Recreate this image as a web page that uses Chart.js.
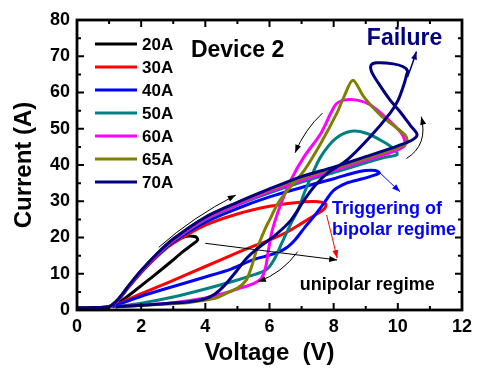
<!DOCTYPE html>
<html>
<head>
<meta charset="utf-8">
<script src="https://cdn.jsdelivr.net/npm/chart.js@4.4.1/dist/chart.umd.min.js"></script>
<style>
    html, body { margin: 0; padding: 0; background: #fff; }
    #wrap { width: 478px; height: 370px; position: relative; }
</style>
</head>
<body>
<div id="wrap"><canvas id="ivLoops"></canvas></div>
<script>
// Measured I-V loops, [voltage (V), current (A)], in the order the sweep runs
const loop20A = [[0,0.6],[0.5,0.7],[1.0,0.9],[1.3,3],[1.6,6.4],[2.0,10.6],[2.5,15.1],[3.0,18.6],[3.4,20.3],[3.7,20.2],[3.76,19.3],[3.6,18.1],[3.3,16.1],[2.9,13.1],[2.4,9.5],[1.9,6.0],[1.4,2.6],[1.1,0.9]];
const loop30A = [[0,0.6],[0.5,0.7],[1.0,0.9],[1.3,2.9],[1.6,6.2],[2.0,10.3],[2.5,14.8],[3.0,18.4],[4.0,23.4],[5.0,26.5],[6.0,28.6],[6.8,29.6],[7.4,29.9],[7.75,29.3],[7.72,28],[7.5,26.6],[7.0,23.9],[6.5,21.3],[6.0,19.3],[5.5,17.6],[5.0,15.8],[4.0,12],[3.0,8.2],[2.0,4.5],[1.1,0.9]];
const loop40A = [[0,0.6],[0.5,0.7],[1.0,0.9],[1.3,3],[1.6,6.3],[2.0,10.5],[2.5,15],[3.0,18.8],[4.0,24.2],[5.0,28],[6.0,31.2],[7.0,33.8],[8.0,36.2],[8.8,38.2],[9.3,38.5],[9.42,37.8],[9.2,37],[8.9,36.2],[8.4,35],[8.0,33],[7.7,29.5],[7.4,26],[7.1,22.8],[6.8,19.4],[6.5,17],[6.1,15.4],[5.5,13.9],[4.8,11.3],[4.0,9.1],[3.0,6.5],[2.0,3.8],[1.1,0.9]];
const loop50A = [[0,0.6],[0.5,0.7],[1.0,0.9],[1.3,3],[1.6,6.4],[2.0,10.6],[2.5,15.2],[3.0,19.1],[4.0,24.9],[5.0,28.9],[6.0,32.3],[7.0,35.3],[8.0,37.9],[9.0,40.6],[9.6,42.1],[9.97,42.8],[9.93,44.1],[9.55,46.4],[9.04,48.7],[8.55,49.3],[8.05,47.2],[7.6,42.3],[7.3,36.8],[7.08,32.2],[6.9,27.8],[6.65,23.5],[6.4,18.8],[6.15,14],[5.9,11.1],[5.4,9.4],[4.9,8],[4.0,5.8],[3.0,3.6],[2.0,1.9],[1.2,0.9]];
const loop60A = [[0,0.6],[0.5,0.7],[1.0,0.9],[1.3,3],[1.6,6.5],[2.0,10.7],[2.5,15.4],[3.0,19.3],[4.0,25.2],[5.0,29.1],[6.0,32.7],[7.0,35.8],[8.0,38.5],[9.0,41.3],[9.8,43.5],[10.2,45.2],[10.2,47.2],[10.07,49.2],[9.65,52.9],[9.14,56.6],[8.73,57.9],[8.32,57.9],[8.05,56.5],[7.6,48.7],[7.08,42.3],[6.67,35.9],[6.36,29.4],[6.18,24.8],[6.06,21],[5.95,15.6],[5.88,11.8],[5.75,8.8],[5.5,7.3],[5.0,5.8],[4.5,4.4],[4.0,3.3],[3.0,2.0],[2.0,1.3],[1.2,0.9]];
const loop65A = [[0,0.6],[0.5,0.7],[1.0,0.9],[1.3,3.1],[1.6,6.6],[2.0,10.9],[2.5,15.6],[3.0,19.6],[4.0,25.6],[5.0,29.6],[6.0,33.2],[7.0,36.4],[8.0,39.1],[9.0,41.8],[9.9,44.5],[10.27,46],[10.25,48],[9.91,50.6],[9.45,53.8],[8.94,58.8],[8.6,63.4],[8.32,58.8],[8.1,54.3],[7.6,46],[7.09,38.6],[6.57,33.1],[6.26,29.4],[6.0,24.8],[5.85,22.1],[5.6,16.6],[5.44,11.9],[5.28,8.3],[5.03,6.2],[4.7,4.8],[4.3,3.2],[3.5,2.1],[2.5,1.5],[1.2,0.9]];
const loop70A = [[0,0.6],[0.5,0.7],[1.0,0.9],[1.3,3.1],[1.6,6.6],[2.0,10.9],[2.5,15.6],[3.0,19.6],[4.0,25.6],[5.0,29.7],[6.0,33.4],[7.0,36.8],[8.0,39.4],[9.0,42.3],[10.0,45.3],[10.45,46.9],[10.6,48.4],[10.4,50.8],[10.07,54.7],[9.76,57.9],[9.4,62.5],[9.18,65.8],[9.17,67.6],[9.35,68.2],[9.86,67.9],[10.17,67.1],[10.3,66],[10.27,64.8],[10.2,62.5],[10.01,57.9],[9.76,54.3],[9.14,47.8],[8.42,41.4],[7.8,37.7],[7.39,34],[7.08,30.3],[6.67,24.8],[6.2,20.8],[5.6,16.8],[5.28,14.2],[4.95,10.5],[4.6,6.8],[4.3,4.4],[4.0,3.1],[3.5,2.3],[2.8,1.8],[2.0,1.3],[1.2,0.9]];

const loopLabels = ['20A', '30A', '40A', '50A', '60A', '65A', '70A'];
const loopColors = ['#000000', '#ff0000', '#0000ff', '#008080', '#ff00ff', '#808000', '#000080'];
const loops = [loop20A, loop30A, loop40A, loop50A, loop60A, loop65A, loop70A];

const xTicks = [0, 2, 4, 6, 8, 10, 12];
const yTicks = [0, 10, 20, 30, 40, 50, 60, 70, 80];

const FONT = "'Liberation Sans', Arial, sans-serif";
Chart.defaults.font.family = FONT;
Chart.defaults.color = '#000';

// Notes written on the plot, placed in axis units
const notes = [
    { text: 'Device 2', x: 3.55, y: 69.8, size: 23, color: '#000000', align: 'left' },
    { text: 'Failure', x: 10.21, y: 73.1, size: 23, color: '#000080', align: 'center' },
    { text: 'Triggering of', x: 7.95, y: 26.5, size: 18, color: '#0000ff', align: 'left' },
    { text: 'bipolar regime', x: 7.95, y: 20.7, size: 18, color: '#0000ff', align: 'left' },
    { text: 'unipolar regime', x: 6.94, y: 5.5, size: 18, color: '#000000', align: 'left' },
];

// Arrows: start, bend point and tip in axis units
const arrows = [
    { from: [2.55, 17.3], via: [3.6, 25.6], to: [4.95, 31.7], color: '#000', width: 1 },
    { from: [7.65, 54.3], via: [7.1, 49.8], to: [6.8, 43.4], color: '#000', width: 1 },
    { from: [10.27, 41.8], via: [10.95, 45.5], to: [10.73, 53.3], color: '#000', width: 1 },
    { from: [6.88, 16.1], via: [6.4, 10.2], to: [5.64, 7.8], color: '#000', width: 1 },
    { from: [4.0, 18.4], via: [6.05, 16.1], to: [8.11, 13.8], color: '#000', width: 1 },
    { from: [7.78, 26.2], via: [7.95, 20.2], to: [8.11, 14.3], color: '#ff0000', width: 1 },
    { from: [9.4, 38.2], via: [9.73, 35.4], to: [10.07, 32.6], color: '#0000ff', width: 1 },
    { from: [10.3, 64.2], via: [10.45, 67.7], to: [10.58, 71.3], color: '#000080', width: 1.5 },
];

// Build one scatter-line dataset per loop
const datasets = loops.map((loop, i) => ({
    label: loopLabels[i],
    data: loop.map(p => ({ x: p[0], y: p[1] })),
    borderColor: loopColors[i],
    borderWidth: 3,
    showLine: true,
    pointRadius: 0,
    tension: 0.3,
    order: loops.length - i,
}));

function drawArrow(ctx, x, y, a) {
    const p0 = [x.getPixelForValue(a.from[0]), y.getPixelForValue(a.from[1])];
    const c = [x.getPixelForValue(a.via[0]), y.getPixelForValue(a.via[1])];
    const p1 = [x.getPixelForValue(a.to[0]), y.getPixelForValue(a.to[1])];
    ctx.save();
    ctx.strokeStyle = a.color;
    ctx.fillStyle = a.color;
    ctx.lineWidth = a.width;
    ctx.beginPath();
    ctx.moveTo(p0[0], p0[1]);
    ctx.quadraticCurveTo(c[0], c[1], p1[0], p1[1]);
    ctx.stroke();
    // arrow head follows the curve's direction at the tip
    const ang = Math.atan2(p1[1] - c[1], p1[0] - c[0]);
    const len = 8, half = 3;
    ctx.beginPath();
    ctx.moveTo(p1[0], p1[1]);
    ctx.lineTo(p1[0] - len * Math.cos(ang) + half * Math.sin(ang), p1[1] - len * Math.sin(ang) - half * Math.cos(ang));
    ctx.lineTo(p1[0] - len * Math.cos(ang) - half * Math.sin(ang), p1[1] - len * Math.sin(ang) + half * Math.cos(ang));
    ctx.closePath();
    ctx.fill();
    ctx.restore();
}

// Box frame with inward ticks, the legend, notes and arrows
const frameAndNotes = {
    id: 'frameAndNotes',
    afterDatasetsDraw(chart) {
        const { ctx, chartArea: a, scales: { x, y } } = chart;
        ctx.save();
        ctx.strokeStyle = '#000';
        ctx.lineWidth = 2;
        for (let v = 0; v <= 12; v += 1) {
            const px = x.getPixelForValue(v);
            const len = v % 2 === 0 ? 7 : 4;
            ctx.beginPath();
            ctx.moveTo(px, a.bottom); ctx.lineTo(px, a.bottom - len);
            ctx.moveTo(px, a.top); ctx.lineTo(px, a.top + len);
            ctx.stroke();
        }
        for (let v = 0; v <= 80; v += 5) {
            const py = y.getPixelForValue(v);
            const len = v % 10 === 0 ? 7 : 4;
            ctx.beginPath();
            ctx.moveTo(a.left, py); ctx.lineTo(a.left + len, py);
            ctx.moveTo(a.right, py); ctx.lineTo(a.right - len, py);
            ctx.stroke();
        }
        ctx.lineWidth = 2.8;
        ctx.strokeRect(a.left, a.top, a.right - a.left, a.bottom - a.top);

        // legend
        ctx.font = 'bold 17px ' + FONT;
        ctx.textBaseline = 'middle';
        ctx.textAlign = 'left';
        chart.data.datasets.forEach((ds, i) => {
            const rowY = 44 + i * 23;
            ctx.strokeStyle = ds.borderColor;
            ctx.lineWidth = 3;
            ctx.beginPath();
            ctx.moveTo(95, rowY); ctx.lineTo(137, rowY);
            ctx.stroke();
            ctx.fillStyle = '#000';
            ctx.fillText(ds.label, 142, rowY + 1);
        });

        // notes
        ctx.textBaseline = 'alphabetic';
        notes.forEach(n => {
            ctx.font = 'bold ' + n.size + 'px ' + FONT;
            ctx.fillStyle = n.color;
            ctx.textAlign = n.align;
            ctx.fillText(n.text, x.getPixelForValue(n.x), y.getPixelForValue(n.y));
        });
        ctx.restore();

        arrows.forEach(ar => drawArrow(ctx, x, y, ar));
    }
};

const canvas = document.getElementById('ivLoops');
const ctx = canvas.getContext('2d');

new Chart(ctx, {
    type: 'scatter',
    data: { datasets },
    plugins: [frameAndNotes],
    options: {
        responsive: true,
        maintainAspectRatio: false,
        animation: false,
        layout: { padding: { left: 0, top: 20, right: 12, bottom: 0 } },
        plugins: {
            legend: { display: false },
            tooltip: { enabled: false },
        },
        scales: {
            x: {
                type: 'linear',
                min: 0,
                max: 12,
                afterBuildTicks: (scale) => { scale.ticks = xTicks.map(v => ({ value: v })); },
                afterFit: (scale) => { scale.height = 60; },
                grid: { display: false, drawTicks: false },
                border: { display: false },
                ticks: { padding: 6, font: { size: 18, weight: 'bold' }, color: '#000' },
                title: {
                    display: true,
                    text: 'Voltage  (V)',
                    font: { size: 24, weight: 'bold' },
                    color: '#000',
                    padding: { top: 0, bottom: 2 },
                },
            },
            y: {
                type: 'linear',
                min: 0,
                max: 80,
                afterBuildTicks: (scale) => { scale.ticks = yTicks.map(v => ({ value: v })); },
                afterFit: (scale) => { scale.width = 77; },
                grid: { display: false, drawTicks: false },
                border: { display: false },
                ticks: { padding: 7, font: { size: 18, weight: 'bold' }, color: '#000' },
                title: {
                    display: true,
                    text: 'Current (A)',
                    font: { size: 24, weight: 'bold' },
                    color: '#000',
                    padding: { top: 10, bottom: 0 },
                },
            },
        },
    },
});
</script>
</body>
</html>
